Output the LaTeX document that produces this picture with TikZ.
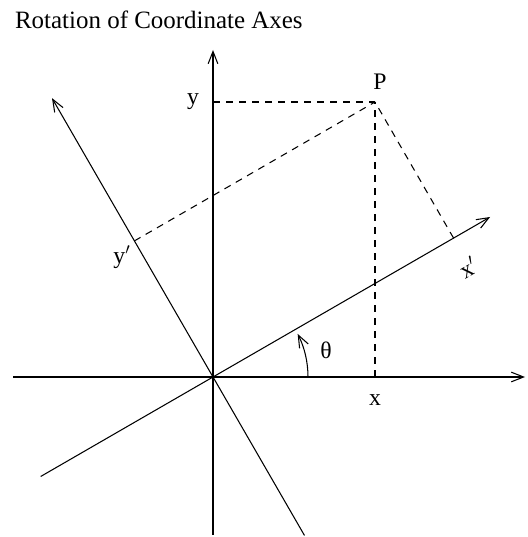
\documentclass[tikz,border=0pt]{standalone}
\usepackage{fontspec}
\setmainfont{Liberation Serif}
\usepackage{tikz}
\usetikzlibrary{arrows.meta,positioning,calc}
\tikzset{
  >={Straight Barb[length=7pt,width=5.5pt]},
  % akser
  axis/.style={draw=black,line width=0.6pt},
  axisarr/.style={->,draw=black,line width=0.6pt},
  proj/.style={draw=black,line width=0.6pt,dash pattern=on 4pt off 3.4pt},
  lbl/.style={font=\fontsize{13.5}{16}\selectfont,inner sep=1pt},
}
\begin{document}
\begin{tikzpicture}[x=0.02cm,y=0.02cm]
  \useasboundingbox (0,0) rectangle (527,537);
  \node[lbl,font=\fontsize{14.2}{17}\selectfont,anchor=base west] (title) at (13,508) {Rotation of Coordinate Axes};
  % origo och axlar
  \coordinate (O) at (213,160);
  \coordinate (xl) at (13,160);
  \coordinate (xr) at (525,160);
  \coordinate (yb) at (213,2);
  \coordinate (yt) at (213,487);
  \coordinate (xpl) at ($(O)+(210:199)$);
  \coordinate (xpr) at ($(O)+(30:320)$);
  \coordinate (ypt) at ($(O)+(120:322)$);
  \coordinate (ypb) at ($(O)+(300:183)$);
  \coordinate (P) at (375,435);
  \coordinate (Px) at (375,160);
  \coordinate (Py) at (213,435);
  \coordinate (Pxp) at ($(O)!(P)!(xpr)$);
  \coordinate (Pyp) at ($(O)!(P)!(ypt)$);
  \draw[axisarr] (xl) -- (xr);
  \draw[axisarr] (yb) -- (yt);
  \draw[axisarr] (xpl) -- (xpr);
  \draw[axisarr] (ypb) -- (ypt);
  \draw[proj] (Py) -- (P);
  \draw[proj] (Px) -- (P);
  \draw[proj] (Pxp) -- (P);
  \draw[proj] (Pyp) -- (P);
  \draw[->,line width=0.6pt] (308,160) arc[start angle=0,end angle=27,radius=95];
  \node[lbl] (lP) at (380,455) {P};
  \node[lbl] (ly) at (193,435) {y};
  \node[lbl] (lx) at (375,137) {x};
  \node[lbl] (lyp) at (122,280) {y$'$};
  \node[lbl,rotate=30] (lxp) at (468,270) {x$'$};
  \node[lbl] (lth) at (326,187) {θ};
\end{tikzpicture}
\end{document}
